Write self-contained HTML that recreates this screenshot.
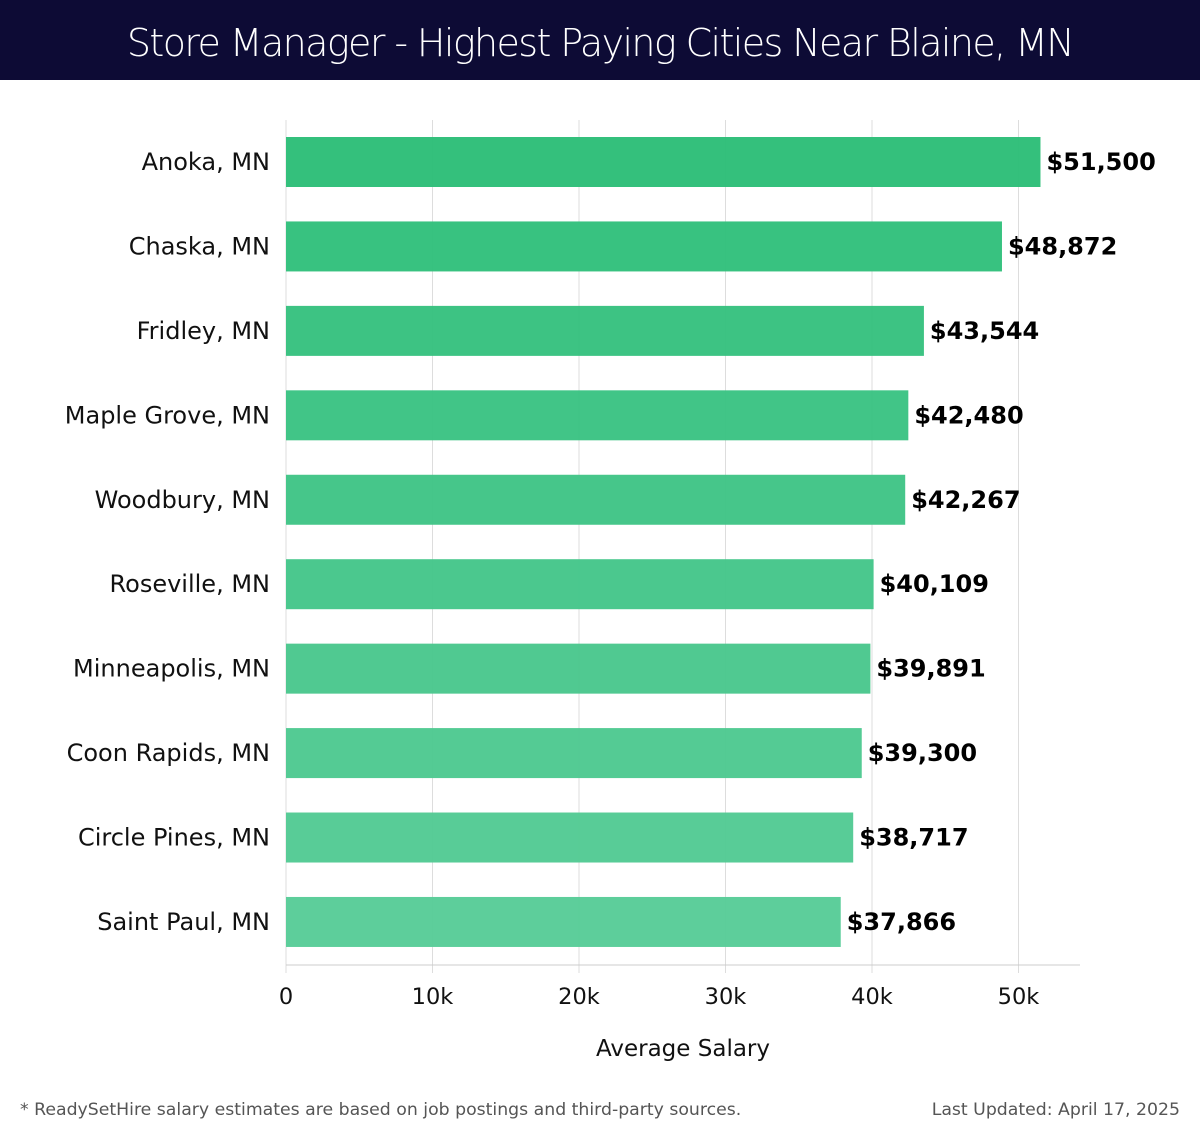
<!DOCTYPE html>
<html><head><meta charset="utf-8"><style>
body{margin:0;width:1200px;height:1140px;background:#fff;font-family:"DejaVu Sans","Liberation Sans",sans-serif;position:relative;overflow:hidden}
#hdr{position:absolute;left:0;top:0;width:1200px;height:80px;background:#0d0b35;color:#fff;font-size:38px;text-align:center;line-height:86px;font-weight:300;letter-spacing:-1.6px}
.foot{position:absolute;top:1100px;font-size:17.3px;color:#555}
</style></head><body>
<div id="hdr">Store Manager - Highest Paying Cities Near Blaine, MN</div>
<svg id="chart" width="1200" height="1140" style="position:absolute;left:0;top:0"></svg>
<div class="foot" style="left:20px">* ReadySetHire salary estimates are based on job postings and third-party sources.</div>
<div class="foot" style="right:20px">Last Updated: April 17, 2025</div>
<script>
const cities=["Anoka, MN","Chaska, MN","Fridley, MN","Maple Grove, MN","Woodbury, MN","Roseville, MN","Minneapolis, MN","Coon Rapids, MN","Circle Pines, MN","Saint Paul, MN"];
const salaries=[51500,48872,43544,42480,42267,40109,39891,39300,38717,37866];
const ticks=[0,10000,20000,30000,40000,50000];
const tickLabels=["0","10k","20k","30k","40k","50k"];
const NS="http://www.w3.org/2000/svg";
const svg=document.getElementById('chart');
const x0=286,pxPer=146.5/10000,yTop=120,axisY=965,band=84.44,firstC=162,bh=50;
const X=v=>x0+v*pxPer;
const Y=i=>firstC+i*band;
function mk(t,a){const e=document.createElementNS(NS,t);for(const k in a)e.setAttribute(k,a[k]);svg.appendChild(e);return e;}
ticks.forEach((t,i)=>{
 const g=mk('line',{x1:X(t),x2:X(t),y1:yTop,y2:axisY+8,stroke:'#ddd','stroke-width':1});
 
 
 const l=mk('text',{x:X(t),y:1004,'text-anchor':'middle','font-size':22.5,fill:'#111'});
 l.textContent=tickLabels[i];
 
 
});
const ax=mk('line',{x1:x0,x2:1080,y1:axisY,y2:axisY,stroke:'#ccc'});


const c1=[45,190,120],c2=[88,204,152];
salaries.forEach((v,i)=>{
 const f=i/(salaries.length-1);
 const c=c1.map((a,k)=>Math.round(a+(c2[k]-a)*f));
 const r=mk('rect',{x:x0,y:Y(i)-bh/2,width:X(v)-x0,height:bh,fill:`rgb(${c})`,'fill-opacity':0.97});
 
 
 const vl=mk('text',{x:X(v)+6,y:Y(i)+8,'font-size':24,'font-weight':'bold',fill:'#000'});
 vl.textContent='$'+v.toLocaleString('en-US');
 
 
 const cl=mk('text',{x:270,y:Y(i)+8,'text-anchor':'end','font-size':24,fill:'#111'});
 cl.textContent=cities[i];
 
 
});
const at=mk('text',{x:683,y:1056,'text-anchor':'middle','font-size':23,fill:'#111'});
at.textContent='Average Salary';


</script>
</body></html>
